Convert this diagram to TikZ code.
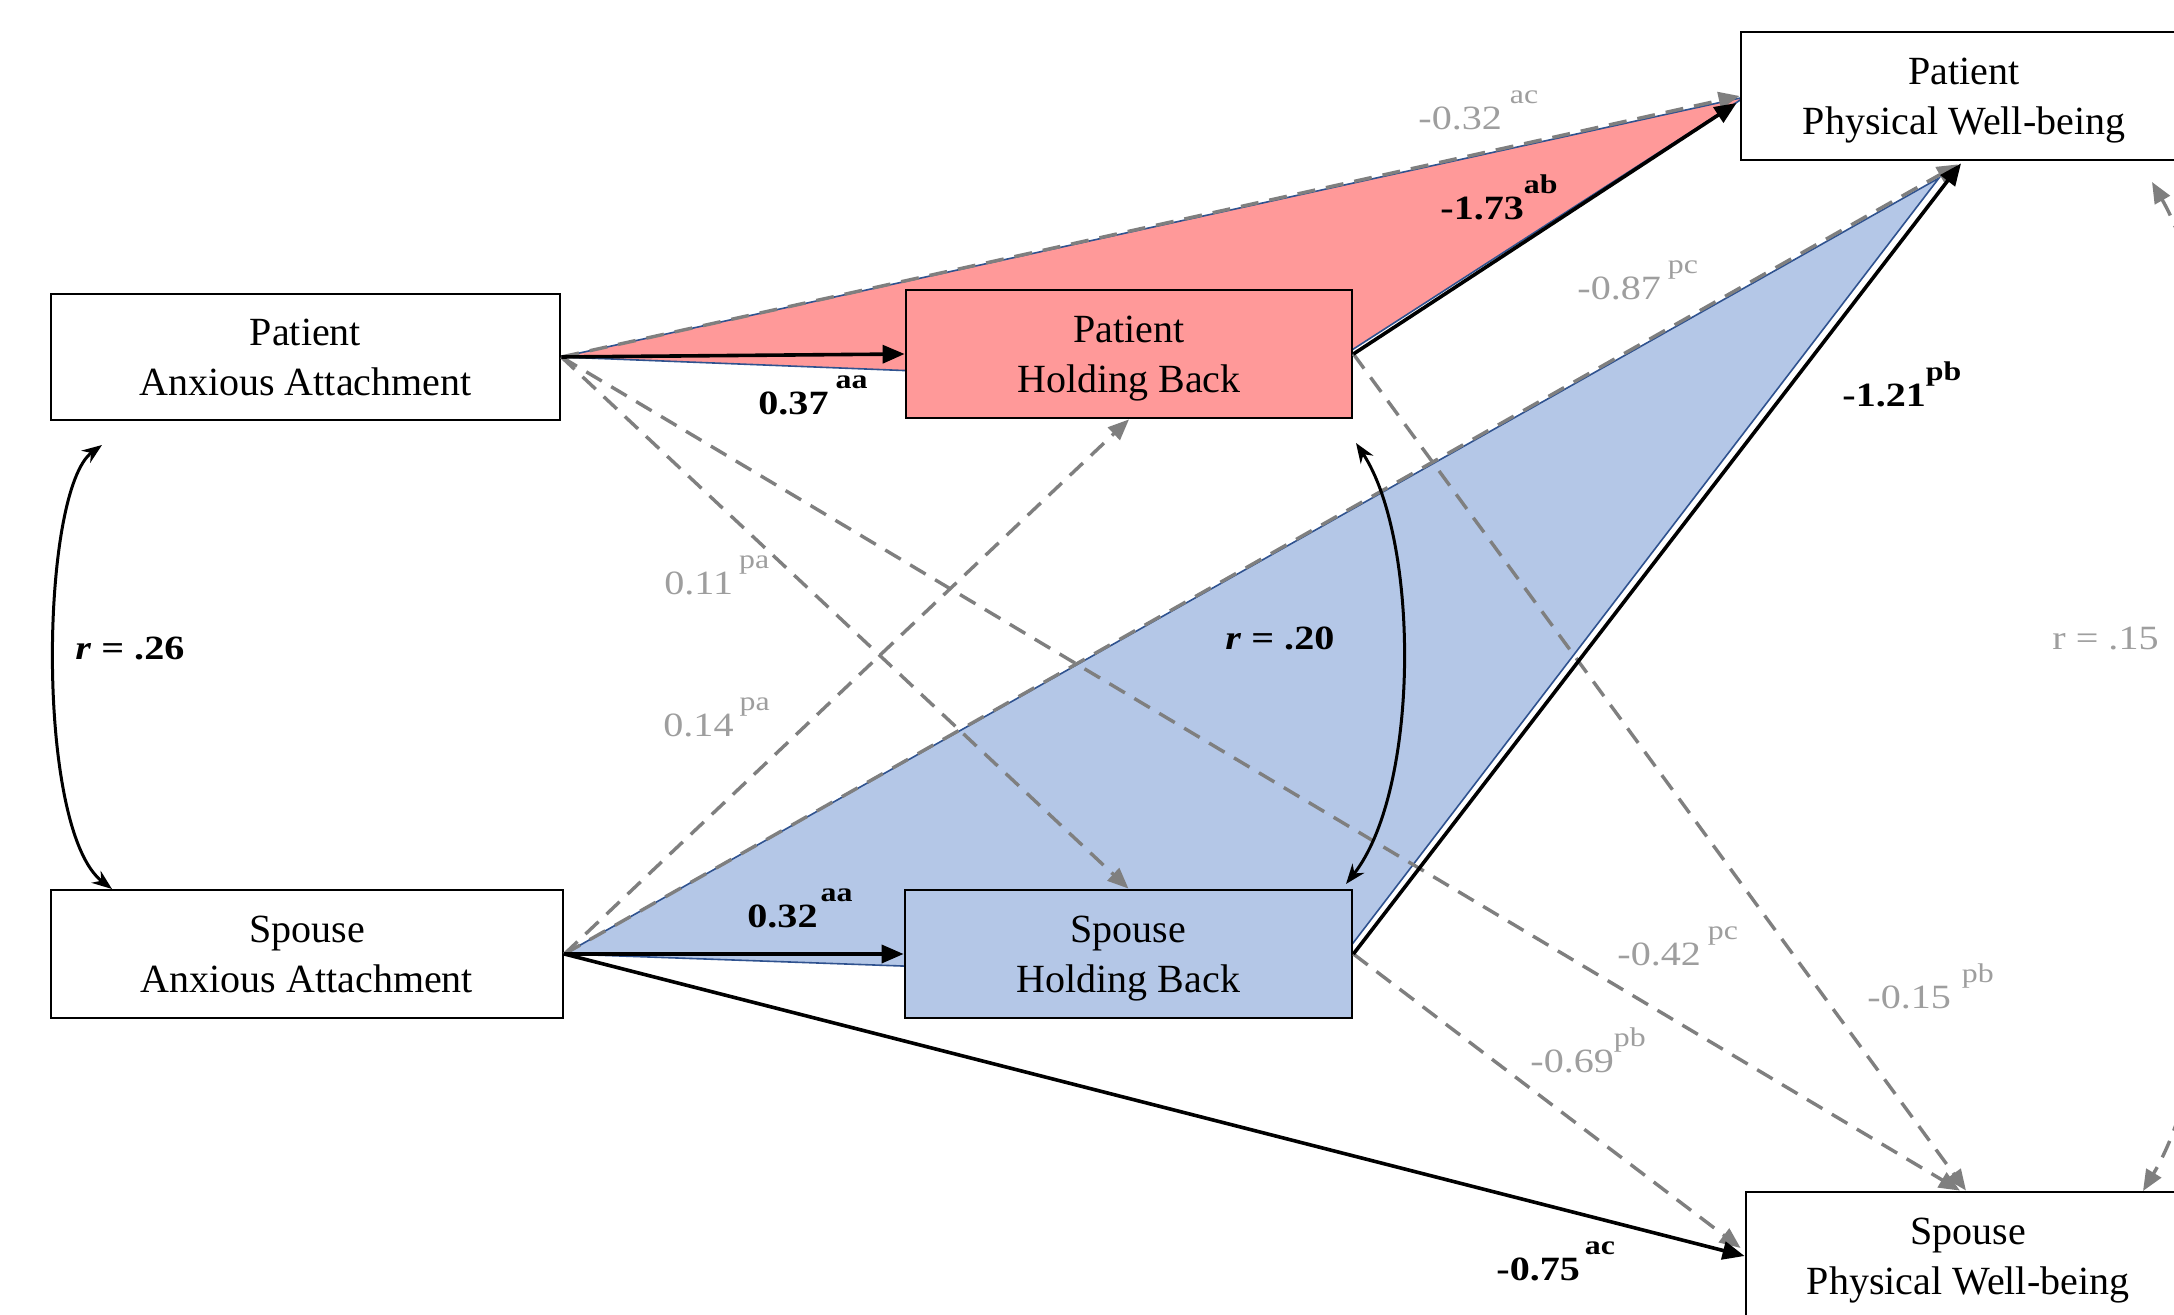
\documentclass[tikz,border=0pt]{standalone}
\usepackage{fontspec}
\setmainfont{Liberation Serif}
\newfontfamily\labfont[FakeStretch=1.18]{Liberation Serif}
\usetikzlibrary{arrows.meta,calc}
\pgfdeclarelayer{background}
\pgfsetlayers{background,main}
\definecolor{redfill}{RGB}{255,153,153}
\definecolor{bluefill}{RGB}{180,199,231}
\definecolor{edgeblue}{RGB}{47,82,143}
\definecolor{dashgray}{RGB}{127,127,127}
\definecolor{labgray}{RGB}{158,158,158}
\newcommand{\numsup}[2][0pt]{\kern#1\raisebox{13pt}{\fontsize{13.5}{14}\selectfont #2}}
\begin{document}
\begin{tikzpicture}[x=0.5pt, y=-0.5pt,
  box/.style={draw=black, line width=1.4pt, inner sep=0pt, align=center, text depth=0pt,
    font=\fontsize{20}{25}\selectfont, minimum width=223pt, minimum height=64pt},
  lab/.style={anchor=base west, inner sep=0pt, font=\labfont\fontsize{17}{20}\selectfont},
  glab/.style={lab, text=labgray},
  blab/.style={lab, font=\labfont\bfseries\fontsize{17}{20}\selectfont},
  solidarrow/.style={draw=black, line width=1.8pt, -{Triangle[length=11pt,width=9pt]}},
  dasharrow/.style={draw=dashgray, line width=1.7pt, dash pattern=on 9pt off 5.5pt,
    -{Triangle[length=10.5pt,width=8.5pt]}},
  corr/.style={draw=black, line width=1.5pt,
    {Stealth[length=10pt,width=7.5pt]}-{Stealth[length=10pt,width=7.5pt]}},
  tri/.style={draw=edgeblue, line width=0.8pt}]
\useasboundingbox (0,0) rectangle (2174,1315);
\clip (0,0) rectangle (2174,1315);

% boxes
\node[box, minimum width=254.5pt, minimum height=63pt, fill=white] (paa) at (305.5,357) {Patient\\Anxious Attachment};
\node[box, minimum width=256pt, fill=white] (saa) at (307,954) {Spouse\\Anxious Attachment};
\node[box, fill=redfill] (phb) at (1129,354) {Patient\\Holding Back};
\node[box, minimum width=223.5pt, fill=bluefill] (shb) at (1128.5,954) {Spouse\\Holding Back};
\node[box, fill=white] (ppw) at (1964,96) {Patient\\Physical Well-being};
\node[box, minimum width=222pt, fill=white] (spw) at (1968,1256) {Spouse\\Physical Well-being};

% shaded triangles
\begin{pgfonlayer}{background}
\fill[white] (0,0) rectangle (2174,1315);
\coordinate (redtip) at (1745,97);
\coordinate (redlow) at (1296,386);
\coordinate (bluetip) at (1939,178);
\coordinate (bluelow) at (1324,981);
\filldraw[tri, fill=redfill] (paa.east) -- (redtip) -- (redlow) -- cycle;
\filldraw[tri, fill=bluefill] (saa.east) -- (bluetip) -- (bluelow) -- cycle;
\end{pgfonlayer}

% dashed paths
\draw[dasharrow] (paa.east) -- (ppw.west);
\draw[dasharrow] (saa.east) -- ($(ppw.south)+(-6,3)$);
\draw[dasharrow] (paa.east) -- (shb.north);
\draw[dasharrow] (saa.east) -- (phb.south);
\draw[dasharrow] (paa.east) -- ($(spw.north)+(-8,0)$);
\draw[dasharrow] (phb.east) -- ($(spw.north)+(-2,0)$);
\draw[dasharrow] (shb.east) -- ($(spw.west)+(-4,-8)$);

% solid paths
\draw[solidarrow] (paa.east) -- (phb.west);
\draw[solidarrow] (saa.east) -- (shb.west);
\draw[solidarrow] (phb.east) -- ($(ppw.west)+(-3,7)$);
\draw[solidarrow] (shb.east) -- ($(ppw.south)+(-3,2)$);
\draw[solidarrow] (saa.east) -- (spw.west);

% correlations
\coordinate (c26a) at (102,445);
\coordinate (c26b) at (112,889);
\draw[corr] (c26a) .. controls (40,490) and (35,830) .. (c26b);
\coordinate (c20a) at (1356,443);
\coordinate (c20b) at (1346,884);
\draw[corr] (c20a) .. controls (1420,540) and (1420,790) .. (c20b);
\coordinate (c15a) at (2152,182);
\coordinate (c15b) at (2143,1191);
\draw[draw=dashgray, line width=1.7pt, dash pattern=on 9pt off 5.5pt,
  {Triangle[length=10.5pt,width=8.5pt]}-{Triangle[length=10.5pt,width=8.5pt]}]
  (c15a) .. controls (2260,370) and (2255,1005) .. (c15b);

% labels
\node[glab] (l032) at (1418,130) {-0.32\numsup[4pt]{ac}};
\node[blab] (l173) at (1440,220) {-1.73\numsup{ab}};
\node[glab] (l087) at (1577,300) {-0.87\numsup[3.5pt]{pc}};
\node[blab] (l037) at (758,415) {0.37\numsup[3.5pt]{aa}};
\node[blab] (l121) at (1842,407) {-1.21\numsup{pb}};
\node[glab] (l011) at (664,595) {0.11\numsup[3pt]{pa}};
\node[glab] (l014) at (663,736) {0.14\numsup[3pt]{pa}};
\node[blab] (l032s) at (747,927) {0.32\numsup[1.5pt]{aa}};
\node[glab] (l042) at (1617,965) {-0.42\numsup[3.5pt]{pc}};
\node[glab] (l015) at (1867,1008) {-0.15\numsup[5.5pt]{pb}};
\node[glab] (l069) at (1530,1072) {-0.69\numsup{pb}};
\node[blab] (l075) at (1496,1280) {-0.75\numsup[2.5pt]{ac}};
\node[blab] (r26) at (75,660) {\textit{r} = .26};
\node[blab] (r20) at (1225,650) {\textit{r} = .20};
\node[glab] (r15) at (2052,650) {r = .15};
\end{tikzpicture}
\end{document}
